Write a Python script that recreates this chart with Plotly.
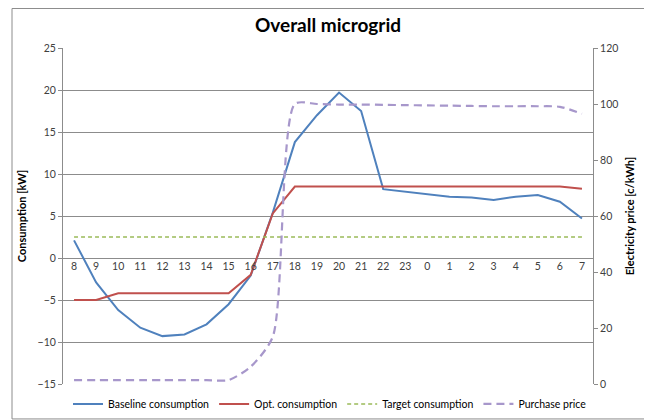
import plotly.graph_objects as go

FONT = "Lato"

hours = ["8", "9", "10", "11", "12", "13", "14", "15", "16", "17", "18", "19",
         "20", "21", "22", "23", "0", "1", "2", "3", "4", "5", "6", "7"]

baseline_kw = [2.1, -2.9, -6.2, -8.3, -9.3, -9.1, -7.9, -5.5, -2.1, 5.4, 13.8, 17.0,
               19.7, 17.5, 8.2, 7.9, 7.6, 7.3, 7.2, 6.9, 7.3, 7.5, 6.7, 4.7]
optimized_kw = [-5.0, -5.0, -4.2, -4.2, -4.2, -4.2, -4.2, -4.2, -2.0, 5.3, 8.5, 8.5,
                8.5, 8.5, 8.5, 8.5, 8.5, 8.5, 8.5, 8.5, 8.45, 8.5, 8.5, 8.25]
target_kw = [2.5] * 24
purchase_price = [1.4, 1.4, 1.4, 1.4, 1.4, 1.4, 1.4, 1.4, 6.2, 16.9, 100.0, 100.0,
                  99.8, 99.8, 99.7, 99.6, 99.5, 99.4, 99.3, 99.2, 99.2, 99.2, 99.0, 96.5]

fig = go.Figure()
fig.add_trace(go.Scatter(x=hours, y=baseline_kw, name="Baseline consumption",
                         mode="lines", line=dict(color="#4F81BD", width=2)))
fig.add_trace(go.Scatter(x=hours, y=optimized_kw, name="Opt. consumption",
                         mode="lines", line=dict(color="#C0504D", width=2)))
fig.add_trace(go.Scatter(x=hours, y=target_kw, name="Target consumption",
                         mode="lines", line=dict(color="#9BBB59", width=1.5, dash="4px,3px")))
fig.add_trace(go.Scatter(x=hours, y=purchase_price, name="Purchase price", yaxis="y2",
                         mode="lines",
                         line=dict(color="#A797CB", width=2.2, dash="8px,5px",
                                   shape="spline", smoothing=0.7)))

axis_font = dict(family=FONT, size=10.5, color="#404040")

# the page body adds an 8px offset, so the figure is sized to fit the window
fig.update_layout(
    width=644, height=412,
    margin=dict(l=55, r=59, t=40, b=36, autoexpand=False),
    paper_bgcolor="white", plot_bgcolor="white",
    font=dict(family=FONT, color="#404040"),
    title=dict(text="<b>Overall microgrid</b>", x=0.5, xref="paper", y=0.959,
               yanchor="middle", font=dict(family=FONT, size=19, color="black")),
    xaxis=dict(type="category", range=[-0.5, 23.5], anchor="free", position=0.375,
               showline=False, showgrid=False, ticks="", tickfont=axis_font, zeroline=False),
    yaxis=dict(range=[-15, 25], dtick=5, showgrid=True, gridcolor="#8C8C8C", gridwidth=1,
               showline=True, linecolor="#8C8C8C", ticks="outside", ticklen=4,
               tickcolor="#8C8C8C", zeroline=False, tickfont=axis_font,
               title=dict(text="<b>Consumption [kW]</b>", standoff=8,
                          font=dict(family=FONT, size=11, color="black"))),
    yaxis2=dict(range=[0, 120], dtick=20, overlaying="y", side="right", showgrid=False,
                showline=True, linecolor="#8C8C8C", ticks="outside", ticklen=4,
                tickcolor="#8C8C8C", zeroline=False, tickfont=axis_font,
                title=dict(text="<b>Electricity price [c/kWh]</b>", standoff=8,
                           font=dict(family=FONT, size=11, color="black"))),
    legend=dict(orientation="h", xref="container", yref="container",
                x=0.5, xanchor="center", y=0.039, yanchor="middle",
                font=dict(family=FONT, size=10.5, color="black"), itemwidth=30,
                tracegroupgap=0),
    showlegend=True,
)

# outer chart frame
fig.add_shape(type="rect", xref="paper", yref="paper",
              x0=-0.0962, x1=1.1, y0=-0.104, y1=1.1176,
              line=dict(color="#8C8C8C", width=1), layer="below")

fig.write_html("out.html")
